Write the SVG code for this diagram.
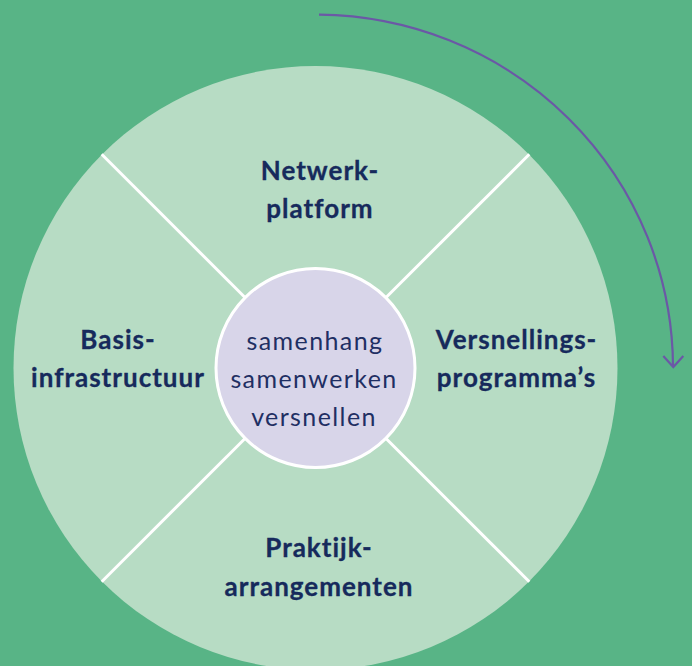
<svg xmlns="http://www.w3.org/2000/svg" width="692" height="666" viewBox="0 0 692 666">
  <defs>
    <style>
      .lbl { font-family: Lato, "Open Sans", sans-serif; font-weight: 700; font-size: 26px; letter-spacing: 1px; fill: #162a5c; text-anchor: middle; stroke: #162a5c; stroke-width: 0.3px; }
      .core { font-family: Lato, "Open Sans", sans-serif; font-weight: 400; font-size: 25px; letter-spacing: 1.4px; fill: #1f2f63; text-anchor: middle; }
      .div { stroke: #ffffff; stroke-width: 3; }
    </style>
  </defs>
  <rect x="0" y="0" width="692" height="666" fill="#58b486"/>
  <g id="wheel">
    <circle cx="315.5" cy="368" r="302" fill="#b7dcc4"/>
  </g>
  <g id="connectors">
    <line class="div" x1="101.7" y1="154.3" x2="245" y2="297.5"/>
    <line class="div" x1="529.3" y1="154.3" x2="386" y2="297.5"/>
    <line class="div" x1="101.7" y1="581.7" x2="245" y2="438.5"/>
    <line class="div" x1="529.3" y1="581.7" x2="386" y2="438.5"/>
    <path d="M 319 14.7 A 357.5 353.5 0 0 1 673 366" fill="none" stroke="#6b58a6" stroke-width="2.2"/>
    <polyline points="663.3,356 673.3,367 683.3,356" fill="none" stroke="#6b58a6" stroke-width="2.2" stroke-linejoin="miter"/>
  </g>
  <g id="center">
    <circle cx="315.5" cy="368" r="99.5" fill="#d8d5e9" stroke="#ffffff" stroke-width="3"/>
    <text class="core" x="315" y="350">samenhang</text>
    <text class="core" x="314" y="388.3">samenwerken</text>
    <text class="core" x="314" y="425.7">versnellen</text>
  </g>
  <g id="netwerkplatform">
    <text class="lbl" x="320" y="179.5">Netwerk-</text>
    <text class="lbl" x="320" y="217.5">platform</text>
  </g>
  <g id="basisinfrastructuur">
    <text class="lbl" x="118" y="349.3">Basis-</text>
    <text class="lbl" x="118" y="387.3">infrastructuur</text>
  </g>
  <g id="versnellingsprogrammas">
    <text class="lbl" x="516.5" y="349.3">Versnellings-</text>
    <text class="lbl" x="516.5" y="387.3">programma’s</text>
  </g>
  <g id="praktijkarrangementen">
    <text class="lbl" x="319" y="557.3">Praktijk-</text>
    <text class="lbl" x="319" y="596">arrangementen</text>
  </g>
</svg>
